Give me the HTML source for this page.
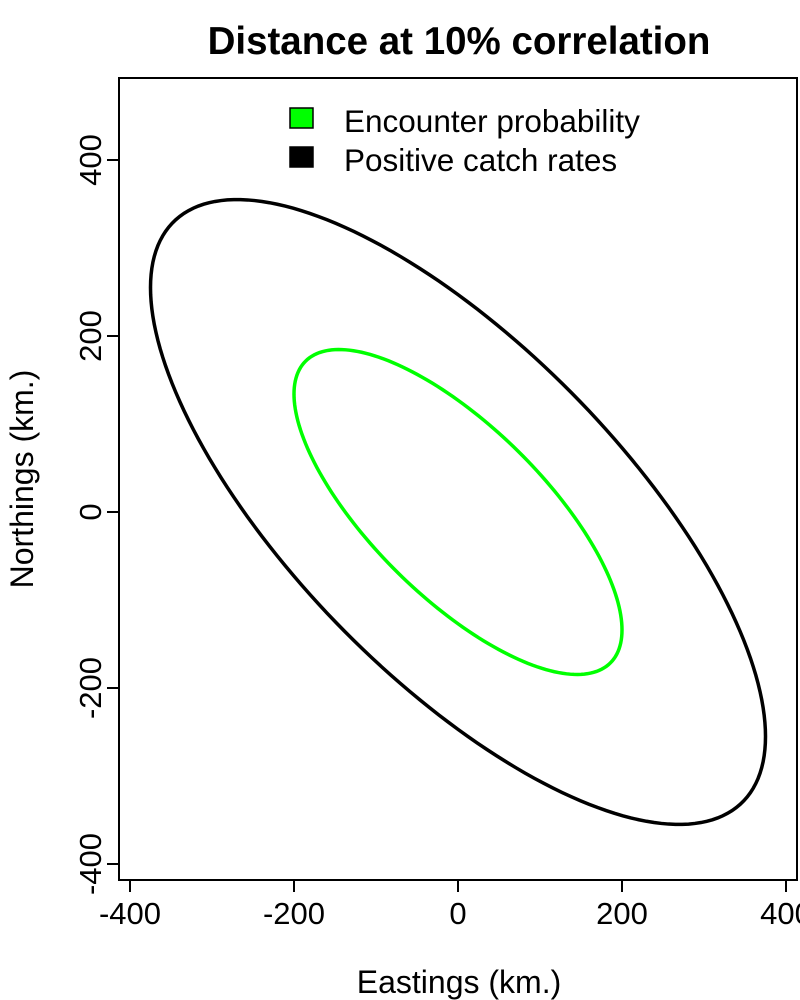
<!DOCTYPE html>
<html><head><meta charset="utf-8"><style>
body{margin:0;background:#fff}
svg{display:block;font-family:"Liberation Sans",sans-serif}
</style></head><body>
<svg id="chart" width="800" height="1000">
<text x="459" y="54" font-size="38.5" font-weight="bold" text-anchor="middle">Distance at 10% correlation</text>
<rect x="119" y="78" width="678" height="802" fill="none" stroke="#000" stroke-width="2"/>
<g id="xaxis"></g>
<g id="yaxis"></g>
<text x="459" y="993" font-size="32" text-anchor="middle">Eastings (km.)</text>
<text transform="translate(33,479) rotate(-90)" font-size="32" text-anchor="middle">Northings (km.)</text>
<g id="marks"></g>
<g>
<rect x="290" y="108" width="23" height="20" fill="#00ff00" stroke="#000" stroke-width="1.5"/>
<text x="344" y="132" font-size="31.5">Encounter probability</text>
<rect x="290" y="147" width="23" height="20" fill="#000" stroke="#000" stroke-width="1.5"/>
<text x="344" y="171" font-size="31.5">Positive catch rates</text>
</g>
</svg>
<script>
const seriesNames = ["Encounter probability", "Positive catch rates"];
const seriesColors = ["#00ff00", "#000000"];
// ellipse transform matrices [m11, m12, m21, m22] (km)
const encounterMatrix = [200, 0, -134, 127];
const positiveMatrix = [375, 0, -255, 247];
const xTicks = [-400, -200, 0, 200, 400];
const yTicks = [-400, -200, 0, 200, 400];
const NS = "http://www.w3.org/2000/svg";
const xs = v => 458 + v * 0.82;
const ys = v => 512 - v * 0.88;
const xg = document.getElementById('xaxis'), yg = document.getElementById('yaxis'), mg = document.getElementById('marks');
function mk(tag, attrs, parent){const e=document.createElementNS(NS,tag);for(const k in attrs)e.setAttribute(k,attrs[k]);parent.appendChild(e);return e;}
mk('line',{x1:xs(xTicks[0]),x2:xs(xTicks[xTicks.length-1]),y1:880,y2:880,stroke:'#000','stroke-width':2},xg);
xTicks.forEach(t=>{
  const l=mk('line',{x1:xs(t),x2:xs(t),y1:880,y2:892,stroke:'#000','stroke-width':2},xg);
  
  
  const tx=mk('text',{x:xs(t),y:924,'font-size':31,'text-anchor':'middle'},xg);
  tx.textContent=t;
  
  
});
mk('line',{x1:119,x2:119,y1:ys(yTicks[0]),y2:ys(yTicks[yTicks.length-1]),stroke:'#000','stroke-width':2},yg);
yTicks.forEach(t=>{
  const l=mk('line',{x1:107,x2:119,y1:ys(t),y2:ys(t),stroke:'#000','stroke-width':2},yg);
  
  
  const tx=mk('text',{transform:`translate(101,${ys(t)}) rotate(-90)`,'font-size':31,'text-anchor':'middle'},yg);
  tx.textContent=t;
  
  
});
[encounterMatrix, positiveMatrix].forEach((m,i)=>{
  let d='';
  for(let k=0;k<=200;k++){const a=k/200*2*Math.PI,c=Math.cos(a),s=Math.sin(a);
    const x=m[0]*c+m[1]*s,y=m[2]*c+m[3]*s;d+=(k?'L':'M')+xs(x).toFixed(2)+','+ys(y).toFixed(2);}
  const p=mk('path',{d:d+'Z',fill:'none',stroke:seriesColors[i],'stroke-width':3.5},mg);
  
  
});
</script>
</body></html>
